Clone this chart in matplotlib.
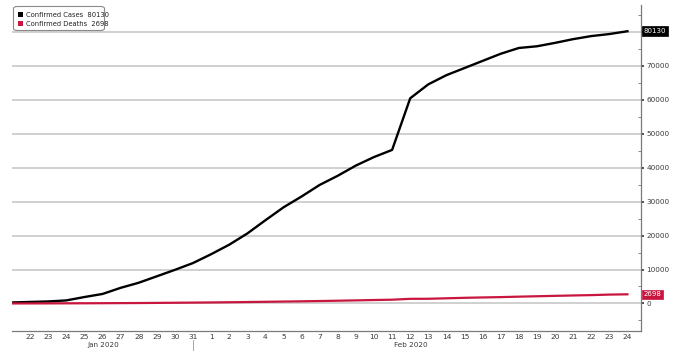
import matplotlib
matplotlib.use("Agg")
import matplotlib.pyplot as plt
from matplotlib.patches import FancyBboxPatch, Rectangle
from matplotlib.ticker import FixedLocator, MultipleLocator
import numpy as np
import pandas as pd

# ---- data ----
dates = pd.date_range("2020-01-21", "2020-02-24", freq="D")
cases = [300, 450, 600, 900, 1900, 2800, 4600, 6100, 8000, 9900, 11900,
         14500, 17300, 20600, 24500, 28300, 31500, 34900, 37600, 40600, 43100, 45200,
         60400, 64500, 67200, 69300, 71400, 73500, 75200, 75700, 76700, 77800,
         78700, 79300, 80130]
deaths = [9, 17, 25, 41, 56, 80, 106, 132, 170, 213, 259,
          304, 362, 426, 492, 565, 638, 724, 813, 910, 1018, 1115,
          1369, 1383, 1526, 1669, 1775, 1873, 2009, 2126, 2247, 2360,
          2460, 2618, 2698]
series_names = ["Confirmed Cases", "Confirmed Deaths"]
y_ticks = [0, 10000, 20000, 30000, 40000, 50000, 60000, 70000, 80000]
month_labels = ["Jan 2020", "Feb 2020"]

BLACK = "#000000"
RED = "#c8163e"
GRID = "#c4c4c4"
TXT = "#3a3a3a"

plt.rcParams["font.family"] = ["DejaVu Sans"]

W, H = 679, 359
fig = plt.figure(figsize=(W / 100, H / 100), dpi=100)
fig.patch.set_facecolor("white")

def fx(px):
    return px / W

def fy(py):
    return 1 - py / H

left_px, right_px, top_px, bot_px = 12, 641, 5, 331
ax = fig.add_axes([fx(left_px), fy(bot_px), fx(right_px - left_px), (bot_px - top_px) / H])

x = np.arange(len(dates))
ax.plot(x, cases, color=BLACK, lw=1.7, solid_joinstyle="round", zorder=3)
ax.plot(x, deaths, color=RED, lw=1.6, solid_joinstyle="round", zorder=4)

ax.set_xlim(0, 34.75)
ax.set_ylim(-8100, 87850)

# spines
for s in ["top", "left"]:
    ax.spines[s].set_visible(False)
for s in ["right", "bottom"]:
    ax.spines[s].set_color("#7a7a7a")
    ax.spines[s].set_linewidth(0.9)

# y axis on right
ax.yaxis.tick_right()
ax.yaxis.set_major_locator(FixedLocator(y_ticks))
ax.set_yticklabels([str(v) if v < 80000 else "" for v in y_ticks])
ax.yaxis.set_minor_locator(MultipleLocator(5000))
ax.tick_params(axis="y", which="major", direction="out", length=2.5, width=1.2,
               color="#333333", labelsize=5.2, labelcolor=TXT, pad=1.2)
ax.tick_params(axis="y", which="minor", direction="in", length=2, width=0.6,
               color="#777777")
ax.grid(axis="y", which="major", color=GRID, lw=1.1, zorder=1)
ax.set_axisbelow(True)

# x axis days
tick_idx = x[1:]
ax.set_xticks(tick_idx)
ax.set_xticklabels([str(d.day) for d in dates[1:]])
ax.tick_params(axis="x", which="major", length=0, labelsize=5.4,
               labelcolor=TXT, pad=2.2)

# month labels
jan_pos = list(dates).index(pd.Timestamp("2020-01-26"))
feb_pos = list(dates).index(pd.Timestamp("2020-02-12"))
for lab, pos in zip(month_labels, [jan_pos, feb_pos]):
    ax.text(pos + 0.05, -0.042, lab, transform=ax.get_xaxis_transform(),
            ha="center", va="center", fontsize=5.2, color=TXT, clip_on=False)
# month separator
sep = list(dates).index(pd.Timestamp("2020-01-31"))
ax.plot([sep, sep], [-0.028, -0.058], transform=ax.get_xaxis_transform(),
        color="#999999", lw=0.6, clip_on=False)

# last value boxes on right axis
for val, col in [(cases[-1], BLACK), (deaths[-1], RED)]:
    ax.annotate(str(val), xy=(1.0, val), xycoords=("axes fraction", "data"),
                xytext=(2.0, 0), textcoords="offset points",
                ha="left", va="center", fontsize=5.0, color="white",
                bbox=dict(boxstyle="square,pad=0.25", fc=col, ec=col, lw=0.5),
                annotation_clip=False, zorder=6)

# legend box
lg = FancyBboxPatch((fx(13.5), fy(30.5)), fx(91), (30.5 - 6.5) / H,
                    boxstyle="round,pad=0,rounding_size=0.006",
                    transform=fig.transFigure, fc="white", ec="#8a8a8a",
                    lw=0.8, zorder=10)
fig.add_artist(lg)
rows = [(series_names[0], cases[-1], BLACK, 14.8), (series_names[1], deaths[-1], RED, 23.6)]
for name, val, col, ypx in rows:
    fig.add_artist(Rectangle((fx(18.2), fy(ypx + 2.6)), fx(5.2), 5.2 / H,
                             transform=fig.transFigure, fc=col, ec=col, lw=0, zorder=11))
    fig.text(fx(25.5), fy(ypx), f"{name}  {val}", fontsize=4.9, color="#222222",
             ha="left", va="center", zorder=12)

fig.savefig("out.png", dpi=100, facecolor="white")
